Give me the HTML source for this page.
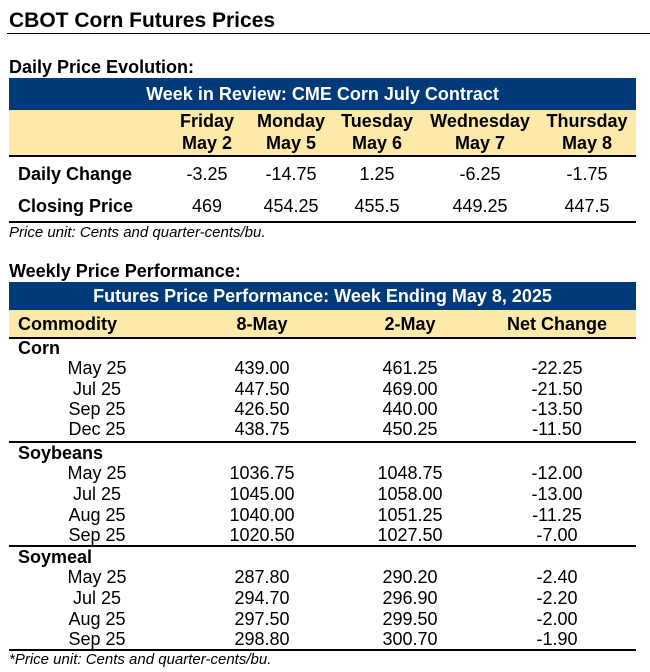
<!DOCTYPE html>
<html><head><meta charset="utf-8"><style>
body{margin:0;width:650px;height:672px;background:#fff;position:relative;font-family:"Liberation Sans",Arial,sans-serif;color:#000;overflow:hidden}
.a{position:absolute;white-space:nowrap;line-height:1}
.c{transform:translateX(-50%)}
.b{font-weight:bold}
.t{font-size:18px}
.s{font-size:18px}
.blue{position:absolute;left:9px;width:627px;background:#003a78;color:#fff;font-weight:bold;text-align:center;white-space:nowrap}
.yel{position:absolute;left:9px;width:627px;background:#fde9a9}
.ln{position:absolute;left:9px;width:627px;height:1.5px;background:#000}
.i{font-style:italic;font-size:15px}
</style></head><body>
<div class="a b" style="left:9px;top:10px;font-size:21px">CBOT Corn Futures Prices</div>
<div style="position:absolute;left:7px;top:33px;width:643px;height:1px;background:#000"></div>

<div class="a b t" style="left:9px;top:58px">Daily Price Evolution:</div>
<div class="blue" style="top:78px;height:32px;line-height:32px;font-size:18px">Week in Review: CME Corn July Contract</div>
<div class="yel" style="top:110px;height:46px"></div>
<div class="ln" style="top:155px"></div>
<div class="a b t c" style="left:207px;top:112px">Friday</div>
<div class="a b t c" style="left:207px;top:134px">May 2</div>
<div class="a b t c" style="left:291px;top:112px">Monday</div>
<div class="a b t c" style="left:291px;top:134px">May 5</div>
<div class="a b t c" style="left:377px;top:112px">Tuesday</div>
<div class="a b t c" style="left:377px;top:134px">May 6</div>
<div class="a b t c" style="left:480px;top:112px">Wednesday</div>
<div class="a b t c" style="left:480px;top:134px">May 7</div>
<div class="a b t c" style="left:587px;top:112px">Thursday</div>
<div class="a b t c" style="left:587px;top:134px">May 8</div>
<div class="a b t" style="left:18px;top:165px">Daily Change</div>
<div class="a t c" style="left:207px;top:165px">-3.25</div>
<div class="a t c" style="left:291px;top:165px">-14.75</div>
<div class="a t c" style="left:377px;top:165px">1.25</div>
<div class="a t c" style="left:480px;top:165px">-6.25</div>
<div class="a t c" style="left:587px;top:165px">-1.75</div>
<div class="a b t" style="left:18px;top:197px">Closing Price</div>
<div class="a t c" style="left:207px;top:197px">469</div>
<div class="a t c" style="left:291px;top:197px">454.25</div>
<div class="a t c" style="left:377px;top:197px">455.5</div>
<div class="a t c" style="left:480px;top:197px">449.25</div>
<div class="a t c" style="left:587px;top:197px">447.5</div>
<div class="ln" style="top:221px"></div>
<div class="a i" style="left:9px;top:225px">Price unit: Cents and quarter-cents/bu.</div>

<div class="a b t" style="left:9px;top:262px">Weekly Price Performance:</div>
<div class="blue" style="top:282px;height:28px;line-height:28px;font-size:18px">Futures Price Performance: Week Ending May 8, 2025</div>
<div class="yel" style="top:310px;height:28px"></div>
<div class="ln" style="top:337px"></div>
<div class="a b s" style="left:18px;top:315px">Commodity</div>
<div class="a b s c" style="left:262px;top:315px">8-May</div>
<div class="a b s c" style="left:410px;top:315px">2-May</div>
<div class="a b s c" style="left:557px;top:315px">Net Change</div>

<div class="a b s" style="left:18px;top:339px">Corn</div>
<div class="a s c" style="left:97px;top:359px">May 25</div><div class="a s c" style="left:262px;top:359px">439.00</div><div class="a s c" style="left:410px;top:359px">461.25</div><div class="a s c" style="left:557px;top:359px">-22.25</div>
<div class="a s c" style="left:97px;top:380px">Jul 25</div><div class="a s c" style="left:262px;top:380px">447.50</div><div class="a s c" style="left:410px;top:380px">469.00</div><div class="a s c" style="left:557px;top:380px">-21.50</div>
<div class="a s c" style="left:97px;top:400px">Sep 25</div><div class="a s c" style="left:262px;top:400px">426.50</div><div class="a s c" style="left:410px;top:400px">440.00</div><div class="a s c" style="left:557px;top:400px">-13.50</div>
<div class="a s c" style="left:97px;top:420px">Dec 25</div><div class="a s c" style="left:262px;top:420px">438.75</div><div class="a s c" style="left:410px;top:420px">450.25</div><div class="a s c" style="left:557px;top:420px">-11.50</div>
<div class="ln" style="top:441px"></div>

<div class="a b s" style="left:18px;top:444px">Soybeans</div>
<div class="a s c" style="left:97px;top:464px">May 25</div><div class="a s c" style="left:262px;top:464px">1036.75</div><div class="a s c" style="left:410px;top:464px">1048.75</div><div class="a s c" style="left:557px;top:464px">-12.00</div>
<div class="a s c" style="left:97px;top:485px">Jul 25</div><div class="a s c" style="left:262px;top:485px">1045.00</div><div class="a s c" style="left:410px;top:485px">1058.00</div><div class="a s c" style="left:557px;top:485px">-13.00</div>
<div class="a s c" style="left:97px;top:506px">Aug 25</div><div class="a s c" style="left:262px;top:506px">1040.00</div><div class="a s c" style="left:410px;top:506px">1051.25</div><div class="a s c" style="left:557px;top:506px">-11.25</div>
<div class="a s c" style="left:97px;top:526px">Sep 25</div><div class="a s c" style="left:262px;top:526px">1020.50</div><div class="a s c" style="left:410px;top:526px">1027.50</div><div class="a s c" style="left:557px;top:526px">-7.00</div>
<div class="ln" style="top:545px"></div>

<div class="a b s" style="left:18px;top:548px">Soymeal</div>
<div class="a s c" style="left:97px;top:568px">May 25</div><div class="a s c" style="left:262px;top:568px">287.80</div><div class="a s c" style="left:410px;top:568px">290.20</div><div class="a s c" style="left:557px;top:568px">-2.40</div>
<div class="a s c" style="left:97px;top:589px">Jul 25</div><div class="a s c" style="left:262px;top:589px">294.70</div><div class="a s c" style="left:410px;top:589px">296.90</div><div class="a s c" style="left:557px;top:589px">-2.20</div>
<div class="a s c" style="left:97px;top:610px">Aug 25</div><div class="a s c" style="left:262px;top:610px">297.50</div><div class="a s c" style="left:410px;top:610px">299.50</div><div class="a s c" style="left:557px;top:610px">-2.00</div>
<div class="a s c" style="left:97px;top:630px">Sep 25</div><div class="a s c" style="left:262px;top:630px">298.80</div><div class="a s c" style="left:410px;top:630px">300.70</div><div class="a s c" style="left:557px;top:630px">-1.90</div>
<div class="ln" style="top:649px"></div>
<div class="a i" style="left:9px;top:652px">*Price unit: Cents and quarter-cents/bu.</div>
</body></html>
